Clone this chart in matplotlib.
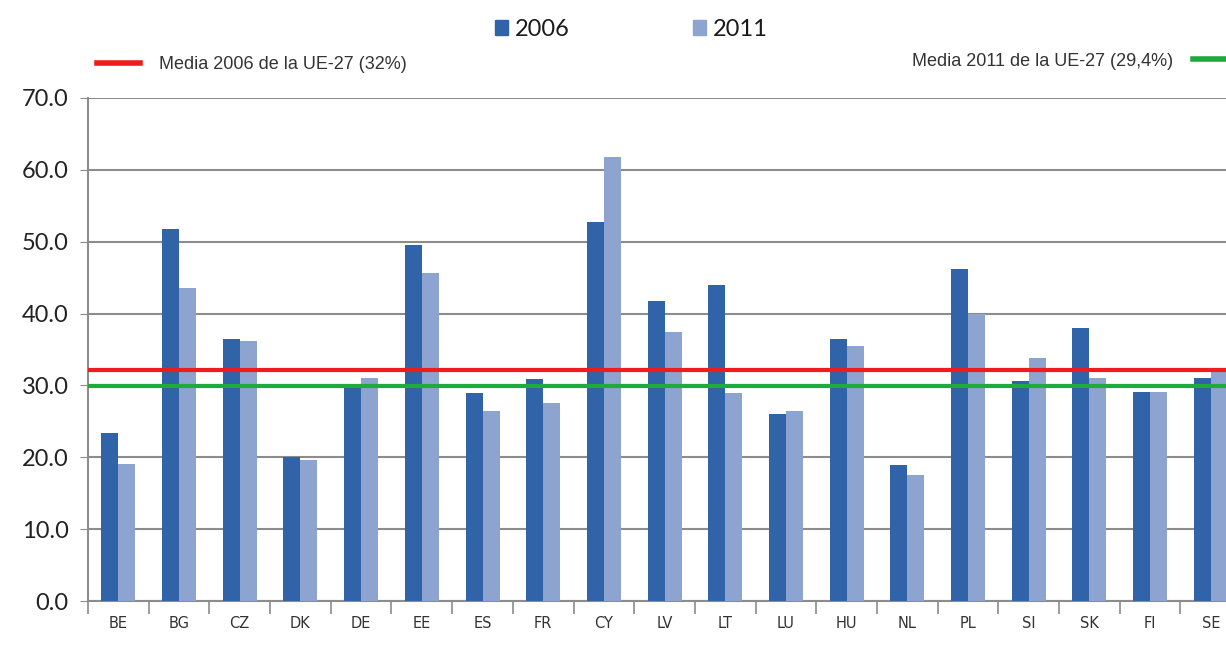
import numpy as np
import matplotlib.pyplot as plt
from matplotlib.lines import Line2D
from matplotlib.patches import Patch

countries = ['BE', 'BG', 'CZ', 'DK', 'DE', 'EE', 'ES', 'FR', 'CY', 'LV',
             'LT', 'LU', 'HU', 'NL', 'PL', 'SI', 'SK', 'FI', 'SE']
v2006 = [23.4, 51.7, 36.4, 20.0, 30.0, 49.5, 28.9, 30.9, 52.7, 41.7,
         44.0, 26.0, 36.4, 18.9, 46.2, 30.6, 38.0, 29.1, 31.0]
v2011 = [19.0, 43.5, 36.2, 19.6, 31.0, 45.6, 26.4, 27.5, 61.8, 37.4,
         28.9, 26.4, 35.5, 17.5, 39.9, 33.8, 31.0, 29.1, 32.4]
media_2006 = 32.2
media_2011 = 29.9
label_2006 = 'Media 2006 de la UE-27 (32%)'
label_2011 = 'Media 2011 de la UE-27 (29,4%)'

c2006 = '#3163a8'
c2011 = '#8ea4d0'

fig = plt.figure(figsize=(12.26, 6.57), dpi=100)
ax = fig.add_axes([88 / 1226, 56 / 657, 1 - 88 / 1226, (601 - 98) / 657])

x = np.arange(len(countries))
w = 0.28
ax.bar(x - w / 2, v2006, w, color=c2006, zorder=3)
ax.bar(x + w / 2, v2011, w, color=c2011, zorder=3)
ax.axhline(media_2006, color='#ee1c1c', lw=3, zorder=4)
ax.axhline(media_2011, color='#1faa3c', lw=3, zorder=4)

ax.set_xlim(-0.5, 18.25)
ax.set_ylim(0, 70)
ax.set_yticks(np.arange(0, 71, 10))
ax.set_yticklabels([f'{t:.1f}' for t in range(0, 71, 10)], fontsize=17,
                   family='Lato', color='#222222')
ax.grid(axis='y', color='#8c8c8c', lw=1.5, zorder=0)
ax.tick_params(axis='y', length=6, color='#8c8c8c', pad=8)

ax.set_xticks(x)
ax.set_xticklabels(countries, fontsize=10.5, color='#333333')
ax.set_xticks(np.arange(-0.5, 18.5, 1), minor=True)
ax.tick_params(axis='x', which='major', length=0, pad=11)
ax.tick_params(axis='x', which='minor', length=9, color='#8c8c8c', width=1.2)

for s in ['top', 'right']:
    ax.spines[s].set_visible(False)
for s in ['left', 'bottom']:
    ax.spines[s].set_color('#8c8c8c')
    ax.spines[s].set_linewidth(1.5)

# legends
fig.legend(handles=[Patch(color=c2006, label='2006'), Patch(color=c2011, label='2011')],
           ncol=2, loc='center', bbox_to_anchor=(0.515, 0.955), frameon=False,
           prop={'family': 'Lato', 'size': 17}, handlelength=0.55, handleheight=0.6,
           handletextpad=0.3, columnspacing=5.2, labelcolor='#1a1a1a')
fig.legend(handles=[Line2D([], [], color='#ee1c1c', lw=4, label=label_2006)],
           loc='center left', bbox_to_anchor=(0.066, 0.902), frameon=False,
           prop={'size': 13, 'family': 'Liberation Sans'}, labelcolor='#333333',
           handlelength=2.4, handletextpad=1.0)
fig.legend(handles=[Line2D([], [], color='#1faa3c', lw=4, label=label_2011)],
           loc='center right', bbox_to_anchor=(1.025, 0.907), frameon=False,
           prop={'size': 13, 'family': 'Liberation Sans'}, labelcolor='#333333',
           handlelength=2.6, handletextpad=1.1, markerfirst=False)

fig.savefig('out.png', dpi=100)
